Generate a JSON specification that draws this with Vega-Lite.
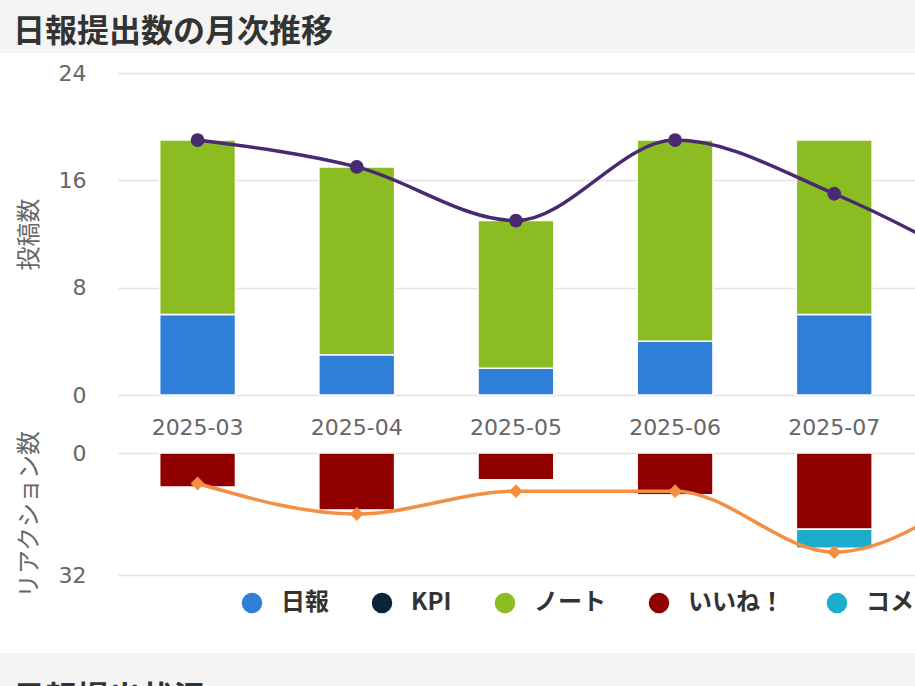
{
  "$schema": "https://vega.github.io/schema/vega-lite/v6.json",
  "background": "white",
  "padding": {"left": 0, "top": 0, "right": 0, "bottom": 0},
  "bounds": "flush",
  "center": true,
  "spacing": 20,
  "config": {
    "view": {"stroke": null},
    "axis": {
      "labelFont": "DejaVu Sans",
      "labelFontSize": 22,
      "labelColor": "#666666",
      "titleFont": "Noto Sans CJK JP",
      "titleFontSize": 24,
      "titleFontWeight": "normal",
      "titleColor": "#666666",
      "domain": false,
      "ticks": false,
      "gridColor": "#e2e2e2",
      "gridWidth": 1.5
    },
    "title": {
      "font": "Noto Sans CJK JP",
      "fontSize": 32,
      "fontWeight": "bold",
      "color": "#333333",
      "anchor": "start",
      "frame": "group"
    }
  },
  "datasets": {
    "none": [],
    "posts": [
      {"month": "2025-03", "type": "日報", "count": 6},
      {"month": "2025-03", "type": "KPI", "count": 0},
      {"month": "2025-03", "type": "ノート", "count": 13},
      {"month": "2025-04", "type": "日報", "count": 3},
      {"month": "2025-04", "type": "KPI", "count": 0},
      {"month": "2025-04", "type": "ノート", "count": 14},
      {"month": "2025-05", "type": "日報", "count": 2},
      {"month": "2025-05", "type": "KPI", "count": 0},
      {"month": "2025-05", "type": "ノート", "count": 11},
      {"month": "2025-06", "type": "日報", "count": 4},
      {"month": "2025-06", "type": "KPI", "count": 0},
      {"month": "2025-06", "type": "ノート", "count": 15},
      {"month": "2025-07", "type": "日報", "count": 6},
      {"month": "2025-07", "type": "KPI", "count": 0},
      {"month": "2025-07", "type": "ノート", "count": 13},
      {"month": "2025-08", "type": "日報", "count": 3},
      {"month": "2025-08", "type": "KPI", "count": 0},
      {"month": "2025-08", "type": "ノート", "count": 6}
    ],
    "postTrend": [
      {"month": "2025-03", "value": 19},
      {"month": "2025-04", "value": 17},
      {"month": "2025-05", "value": 13},
      {"month": "2025-06", "value": 19},
      {"month": "2025-07", "value": 15},
      {"month": "2025-08", "value": 9}
    ],
    "reactions": [
      {"month": "2025-03", "type": "いいね！", "count": 9},
      {"month": "2025-03", "type": "コメント", "count": 0},
      {"month": "2025-04", "type": "いいね！", "count": 15},
      {"month": "2025-04", "type": "コメント", "count": 0},
      {"month": "2025-05", "type": "いいね！", "count": 7},
      {"month": "2025-05", "type": "コメント", "count": 0},
      {"month": "2025-06", "type": "いいね！", "count": 11},
      {"month": "2025-06", "type": "コメント", "count": 0},
      {"month": "2025-07", "type": "いいね！", "count": 20},
      {"month": "2025-07", "type": "コメント", "count": 5},
      {"month": "2025-08", "type": "いいね！", "count": 6},
      {"month": "2025-08", "type": "コメント", "count": 0}
    ],
    "reactionTrend": [
      {"month": "2025-03", "value": 8},
      {"month": "2025-04", "value": 16},
      {"month": "2025-05", "value": 10},
      {"month": "2025-06", "value": 10},
      {"month": "2025-07", "value": 26},
      {"month": "2025-08", "value": 6}
    ]
  },
  "vconcat": [
    {
      "width": 1191,
      "height": 53,
      "view": {"fill": "#f4f4f4", "stroke": null},
      "title": {"text": "日報提出数の月次推移", "offset": -49, "dx": 13},
      "data": {"name": "none"},
      "mark": "text",
      "encoding": {}
    },
    {
      "width": 955,
      "height": 322,
      "layer": [
        {
          "data": {"name": "posts"},
          "mark": {"type": "bar", "stroke": "white", "strokeWidth": 1.5},
          "encoding": {
            "x": {
              "field": "month",
              "type": "ordinal",
              "scale": {"paddingInner": 0.524, "paddingOuter": 0.262},
              "axis": {"title": null, "labelAngle": 0, "labelPadding": 22, "grid": false}
            },
            "y": {
              "field": "count",
              "type": "quantitative",
              "stack": "zero",
              "scale": {"domain": [0, 24], "nice": false},
              "axis": {"title": "投稿数", "values": [0, 8, 16, 24], "labelPadding": 32, "titlePadding": 17}
            },
            "color": {
              "field": "type",
              "type": "nominal",
              "scale": {
                "domain": ["日報", "KPI", "ノート", "いいね！", "コメント"],
                "range": ["#2f7ed8", "#0d233a", "#8bbc21", "#910000", "#1aadce"]
              },
              "legend": {
                "title": null,
                "orient": "none",
                "direction": "horizontal",
                "legendX": 240,
                "legendY": 591,
                "symbolType": "circle",
                "symbolSize": 420,
                "symbolStrokeWidth": 0,
                "symbolOpacity": 1,
                "labelFont": "Noto Sans CJK JP",
                "labelFontSize": 24,
                "labelFontWeight": "bold",
                "labelColor": "#333333",
                "labelOffset": 17,
                "columnPadding": 41,
                "labelLimit": 400
              }
            },
            "order": {"field": "type", "sort": "descending"}
          }
        },
        {
          "data": {"name": "postTrend"},
          "mark": {
            "type": "line",
            "interpolate": "monotone",
            "color": "#492970",
            "strokeWidth": 3.5,
            "point": {"filled": true, "size": 190, "color": "#492970", "opacity": 1}
          },
          "encoding": {
            "x": {"field": "month", "type": "ordinal"},
            "y": {"field": "value", "type": "quantitative"}
          }
        }
      ]
    },
    {
      "width": 955,
      "height": 218,
      "layer": [
        {
          "data": {"name": "reactions"},
          "mark": {"type": "bar", "stroke": "white", "strokeWidth": 1.5},
          "encoding": {
            "x": {
              "field": "month",
              "type": "ordinal",
              "scale": {"paddingInner": 0.524, "paddingOuter": 0.262},
              "axis": null
            },
            "y": {
              "field": "count",
              "type": "quantitative",
              "stack": "zero",
              "scale": {"domain": [0, 32], "range": [38, 160], "nice": false},
              "axis": {"title": "リアクション数", "values": [0, 32], "labelPadding": 32, "titlePadding": 17}
            },
            "color": {"field": "type", "type": "nominal"},
            "order": {"field": "type", "sort": "ascending"}
          }
        },
        {
          "data": {"name": "reactionTrend"},
          "mark": {
            "type": "line",
            "interpolate": "monotone",
            "color": "#f28f43",
            "strokeWidth": 3.5,
            "point": {"filled": true, "shape": "diamond", "size": 190, "color": "#f28f43", "opacity": 1}
          },
          "encoding": {
            "x": {"field": "month", "type": "ordinal"},
            "y": {"field": "value", "type": "quantitative"}
          }
        }
      ]
    },
    {
      "width": 1191,
      "height": 60,
      "view": {"fill": "#f4f4f4", "stroke": null},
      "title": {"text": "日報提出状況", "offset": -63, "dx": 13},
      "data": {"name": "none"},
      "mark": "text",
      "encoding": {}
    }
  ]
}
